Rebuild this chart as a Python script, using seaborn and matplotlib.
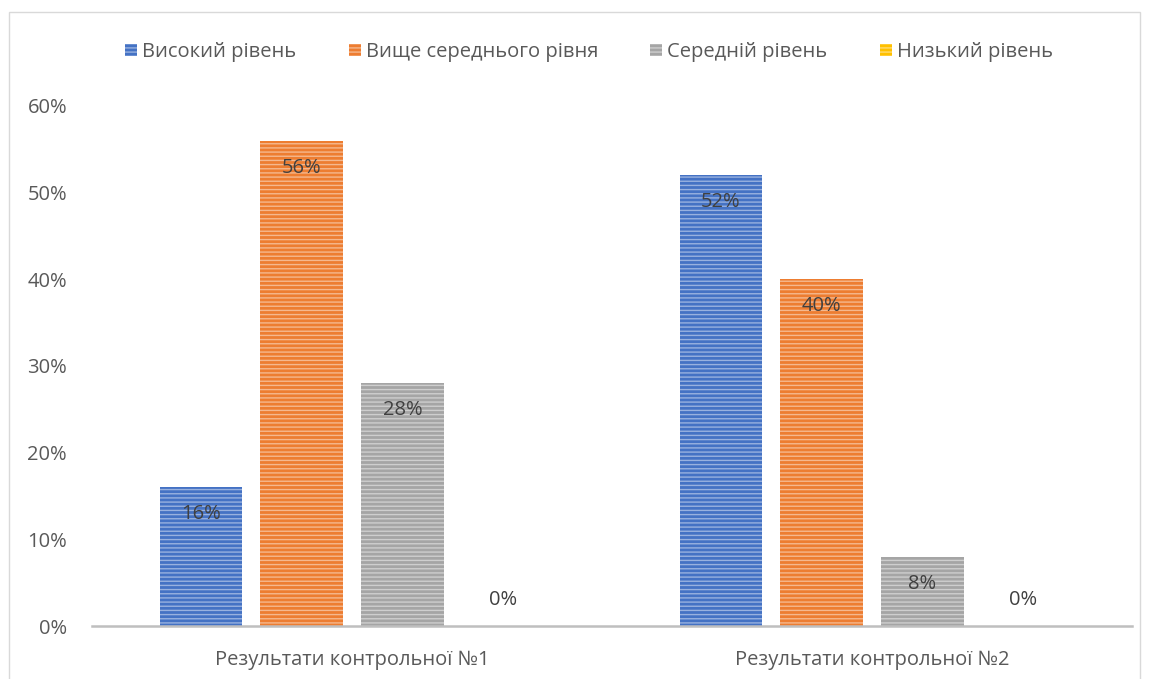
import matplotlib
matplotlib.use("Agg")
import matplotlib.pyplot as plt
from matplotlib.patches import Patch, Rectangle
from matplotlib.colors import to_rgb
import seaborn as sns
import pandas as pd

# Chart data
categories = ["Результати контрольної №1", "Результати контрольної №2"]
levels = ["Високий рівень", "Вище середнього рівня", "Середній рівень", "Низький рівень"]
level_colors = ["#4472C4", "#ED7D31", "#A5A5A5", "#FFC000"]
values_test1 = [0.16, 0.56, 0.28, 0.00]
values_test2 = [0.52, 0.40, 0.08, 0.00]
y_ticks = [0.0, 0.1, 0.2, 0.3, 0.4, 0.5, 0.6]

rows = []
for cat, vals in zip(categories, [values_test1, values_test2]):
    for lvl, v in zip(levels, vals):
        rows.append({"category": cat, "level": lvl, "value": v})
df = pd.DataFrame(rows)

sns.set_theme(style="white")
plt.rcParams["font.family"] = ["Open Sans", "DejaVu Sans"]
plt.rcParams["hatch.linewidth"] = 1.0
text_color = "#595959"
fs = 14.5


def tint(c, f=0.5):
    r, g, b = to_rgb(c)
    return (r + (1 - r) * f, g + (1 - g) * f, b + (1 - b) * f)


fig = plt.figure(figsize=(11.49, 6.79), dpi=100)
ax = fig.add_axes([92 / 1149, 53 / 679, 1040 / 1149, 520 / 679])

sns.barplot(data=df, x="category", y="value", hue="level", order=categories,
            hue_order=levels, palette=level_colors, width=0.775, gap=0.18,
            saturation=1, legend=False, ax=ax)

for container, color in zip(ax.containers, level_colors):
    for bar in container:
        bar.set_hatch("----")
        bar.set_edgecolor(tint(color, 0.45))
        bar.set_linewidth(0)

# value labels inside the bar ends
for container, lvl in zip(ax.containers, levels):
    for bar, cat in zip(container, categories):
        v = df[(df.category == cat) & (df.level == lvl)]["value"].iloc[0]
        x = bar.get_x() + bar.get_width() / 2
        offset = 26 if v == 0 else -27
        ax.annotate(f"{v * 100:.0f}%", (x, v), xytext=(0, offset * 0.72),
                    textcoords="offset points", ha="center", va="center",
                    fontsize=fs, color="#404040")

ax.set_ylim(0, 0.6)
ax.set_xlim(-0.5, 1.5)
ax.set_yticks(y_ticks)
ax.set_yticklabels([f"{t * 100:.0f}%" for t in y_ticks], fontsize=fs, color=text_color)
ax.tick_params(axis="x", labelsize=fs, labelcolor=text_color, length=0, pad=17)
ax.tick_params(axis="y", length=0, pad=18)
ax.set_xlabel("")
ax.set_ylabel("")
for s in ["top", "right", "left"]:
    ax.spines[s].set_visible(False)
ax.spines["bottom"].set_color("#BFBFBF")
ax.spines["bottom"].set_linewidth(1.8)
ax.grid(False)

handles = [Patch(facecolor=c, edgecolor=tint(c, 0.45), hatch="----", linewidth=0)
           for c in level_colors]
fig.legend(handles, levels, loc="center", bbox_to_anchor=(589 / 1149, 1 - 52 / 679), ncol=4,
           frameon=False, fontsize=fs, labelcolor=text_color, handlelength=0.6,
           handleheight=0.6, handletextpad=0.25, columnspacing=2.6)

# outer chart border
fig.patches.append(Rectangle((9 / 1149, -0.01), 1131 / 1149, 1 - 12 / 679 + 0.01,
                             transform=fig.transFigure, fill=False,
                             edgecolor="#D9D9D9", linewidth=1))

fig.savefig("out.png", dpi=100)
